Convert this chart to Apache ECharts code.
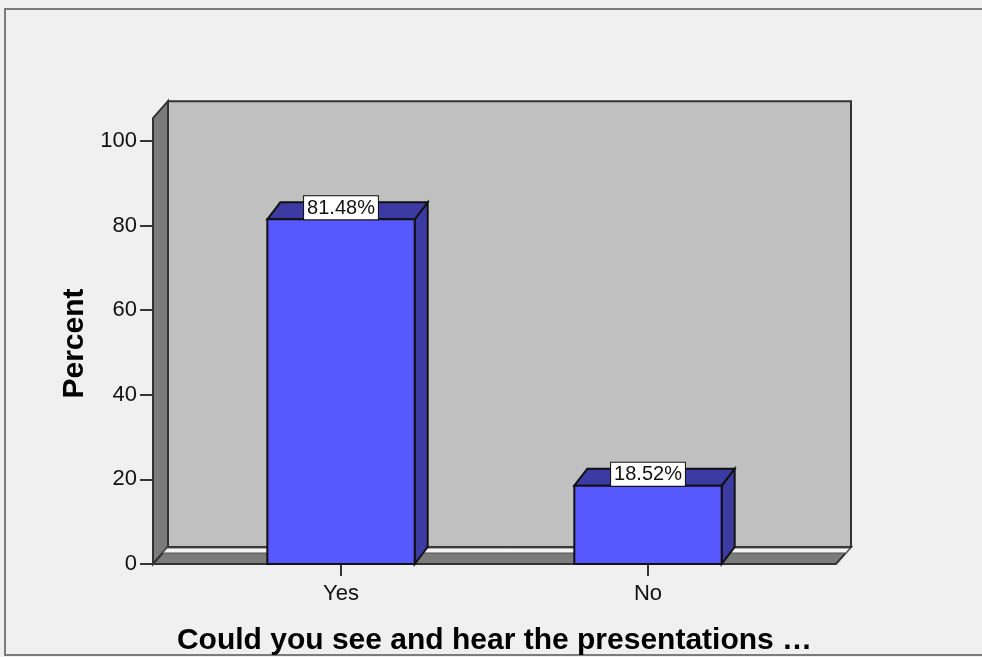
<!DOCTYPE html>
<html>
<head>
<meta charset="utf-8">
<script src="https://cdn.jsdelivr.net/npm/echarts@6/dist/echarts.min.js"></script>
<style>
html,body{margin:0;padding:0;background:#f0f0f0;}
#chart{width:982px;height:657px;}
</style>
</head>
<body>
<div id="chart"></div>
<script>
// ---- data ----
const categories = ['Yes', 'No'];
const percents = [81.48, 18.52];
const valueLabels = ['81.48%', '18.52%'];
const yTickValues = [0, 20, 40, 60, 80, 100];
const xTitle = 'Could you see and hear the presentations \u2026';
const yTitle = 'Percent';

// ---- layout / style constants ----
const FONT = '"Liberation Sans", Arial, sans-serif';
const WALL_PAD = 34.5;      // wall extends beyond category band area
const WALL_TOP_VALUE = 105.4;
const WALL_D = [15, 17];    // depth offset of walls
const BAR_D = [13, 17];     // depth offset of bars
const BAR_RATIO = 0.48;
const EDGE = '#333333';

const chart = echarts.init(document.getElementById('chart'), null, {renderer: 'canvas'});

function renderWalls(params, api) {
  const cs = params.coordSys;
  const L = cs.x - WALL_PAD, R = cs.x + cs.width + WALL_PAD;
  const yF = api.coord([0, 0])[1];
  const yT = api.coord([0, WALL_TOP_VALUE])[1];
  const dx = WALL_D[0], dy = WALL_D[1];
  const t1 = 1 / dy, t2 = 6 / dy;
  return {
    type: 'group',
    children: [
      {type: 'rect', shape: {x: L + dx, y: yT - dy, width: R - L, height: yF - yT},
       style: {fill: '#c0c0c0', stroke: EDGE, lineWidth: 2}},
      {type: 'polygon', shape: {points: [[L, yT], [L + dx, yT - dy], [L + dx, yF - dy], [L, yF]]},
       style: {fill: '#7b7b7b', stroke: EDGE, lineWidth: 2}},
      {type: 'polygon', shape: {points: [[L, yF], [L + dx, yF - dy], [R + dx, yF - dy], [R, yF]]},
       style: {fill: '#7b7b7b', stroke: EDGE, lineWidth: 2}},
      {type: 'polygon', shape: {points: [
         [L + dx - dx * t1, yF - dy + dy * t1], [R + dx - dx * t1, yF - dy + dy * t1],
         [R + dx - dx * t2, yF - dy + dy * t2], [L + dx - dx * t2, yF - dy + dy * t2]]},
       style: {fill: '#f4f4f4', stroke: '#555', lineWidth: 1}}
    ]
  };
}

function renderBar(params, api) {
  const idx = api.value(0), val = api.value(1);
  const top = api.coord([idx, val]);
  const base = api.coord([idx, 0]);
  const bw = api.size([1, 0])[0] * BAR_RATIO;
  const x0 = top[0] - bw / 2, x1 = top[0] + bw / 2;
  const yt = top[1], yb = base[1];
  const dx = BAR_D[0], dy = BAR_D[1];
  return {
    type: 'group',
    children: [
      {type: 'polygon', shape: {points: [[x1, yt], [x1 + dx, yt - dy], [x1 + dx, yb - dy], [x1, yb]]},
       style: {fill: '#3b3ba3', stroke: '#111', lineWidth: 2}},
      {type: 'polygon', shape: {points: [[x0, yt], [x0 + dx, yt - dy], [x1 + dx, yt - dy], [x1, yt]]},
       style: {fill: '#3b3ba3', stroke: '#111', lineWidth: 2}},
      {type: 'rect', shape: {x: x0, y: yt, width: bw, height: yb - yt},
       style: {fill: '#5858ff', stroke: '#111', lineWidth: 2}},
      {type: 'text', x: top[0], y: yt,
       style: {text: valueLabels[params.dataIndex], fill: '#111', font: '20px ' + FONT,
               align: 'center', verticalAlign: 'bottom',
               backgroundColor: '#ffffff', borderColor: '#111', borderWidth: 1,
               padding: [2, 3, 1, 3], lineHeight: 20}}
    ]
  };
}

const option = {
  backgroundColor: '#f0f0f0',
  animation: false,
  graphic: [{
    type: 'rect', z: -10, silent: true,
    shape: {x: 5, y: 9, width: 1000, height: 646},
    style: {fill: 'none', stroke: '#555', lineWidth: 1.5}
  }],
  grid: {left: 187.5, right: 180.5, top: 141, bottom: 93, containLabel: false, outerBoundsMode: 'none'},
  xAxis: {
    type: 'category',
    data: categories,
    axisLine: {show: false},
    axisTick: {show: true, alignWithLabel: true, length: 12, lineStyle: {color: EDGE, width: 2}},
    axisLabel: {margin: 19, fontSize: 22, color: '#111', fontFamily: FONT},
    splitLine: {show: false},
    name: xTitle,
    nameLocation: 'middle',
    nameGap: 62,
    nameTextStyle: {fontSize: 30, fontWeight: 'bold', color: '#000', fontFamily: FONT}
  },
  yAxis: {
    type: 'value',
    min: yTickValues[0],
    max: yTickValues[yTickValues.length - 1],
    interval: yTickValues[1] - yTickValues[0],
    offset: WALL_PAD,
    axisLine: {show: false},
    axisTick: {show: true, length: 13, lineStyle: {color: EDGE, width: 2}},
    axisLabel: {margin: 16, fontSize: 22, color: '#111', fontFamily: FONT, padding: [8, 0, 0, 0]},
    splitLine: {show: false},
    name: yTitle,
    nameLocation: 'middle',
    nameRotate: 90,
    nameGap: 56,
    nameTextStyle: {fontSize: 30, fontWeight: 'bold', color: '#000', fontFamily: FONT, padding: [0, 0, 0, 18]}
  },
  series: [
    {type: 'custom', renderItem: renderWalls, data: [[0, 0]], z: 1, silent: true, clip: false},
    {type: 'custom', renderItem: renderBar, encode: {x: 0, y: 1},
     data: categories.map((c, i) => [i, percents[i]]), z: 2, clip: false}
  ]
};
chart.setOption(option);
</script>
</body>
</html>
